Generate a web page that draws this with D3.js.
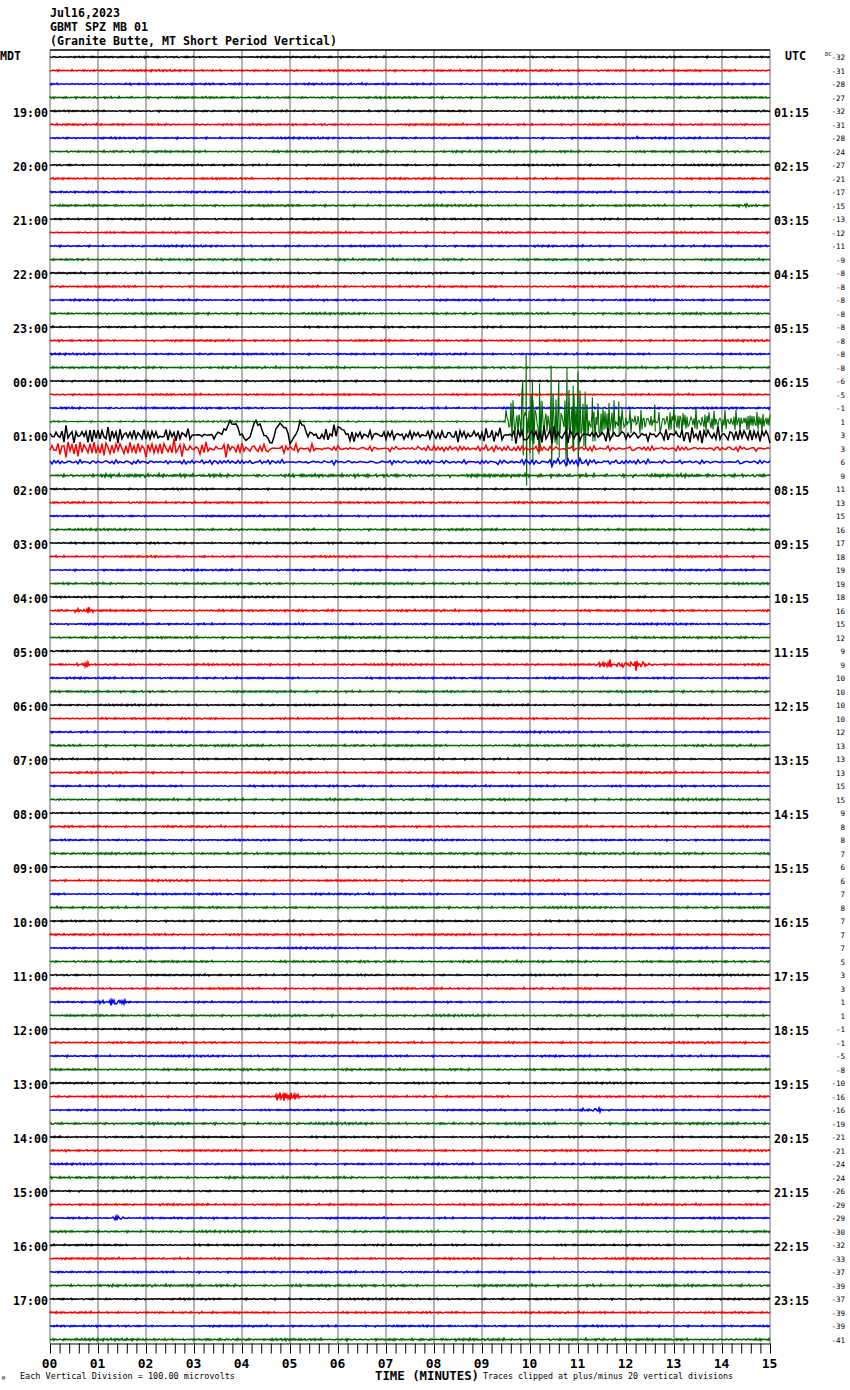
<!DOCTYPE html>
<html><head><meta charset="utf-8">
<script src="https://cdn.jsdelivr.net/npm/d3@7"></script>
<style>body{margin:0;background:#fff}svg{display:block}</style>
</head><body><svg id="c" width="850" height="1390"></svg>
<script>
// ---------------- DATA ----------------
const titleLines = ["Jul16,2023", "GBMT SPZ MB 01", "(Granite Butte, MT Short Period Vertical)"];
const leftLabels = ["", "19:00", "20:00", "21:00", "22:00", "23:00", "00:00", "01:00", "02:00", "03:00", "04:00", "05:00",
  "06:00", "07:00", "08:00", "09:00", "10:00", "11:00", "12:00", "13:00", "14:00", "15:00", "16:00", "17:00"];
const rightLabels = ["", "01:15", "02:15", "03:15", "04:15", "05:15", "06:15", "07:15", "08:15", "09:15", "10:15", "11:15",
  "12:15", "13:15", "14:15", "15:15", "16:15", "17:15", "18:15", "19:15", "20:15", "21:15", "22:15", "23:15"];
const dcValues = [
  -32, -31, -28, -27, -32, -31, -28, -24, -27, -21, -17, -15, -13, -12, -11, -9, -8, -8, -8, -8, -8, -8, -8, -8,
  -6, -5, -1, 1, 3, 3, 6, 9, 11, 13, 15, 16, 17, 18, 19, 19, 18, 16, 15, 12, 9, 9, 10, 10,
  10, 10, 12, 13, 13, 13, 15, 15, 9, 8, 8, 7, 6, 6, 7, 8, 7, 7, 7, 5, 3, 3, 1, 1,
  -1, -1, -5, -8, -10, -16, -16, -19, -21, -21, -24, -24, -26, -29, -29, -30, -32, -33, -37, -39, -37, -39, -39, -41];
const minuteLabels = ["00", "01", "02", "03", "04", "05", "06", "07", "08", "09", "10", "11", "12", "13", "14", "15"];
const traceColors = ["#000000", "#ff0000", "#0000ff", "#006a00"];

// background noise level of each trace (pixels), rows 0..95 (4 traces per hour)
const noiseAmp = [
  1.0, 1.1, 1.1, 1.2,  1.0, 1.1, 1.1, 1.2,  1.0, 1.1, 1.1, 1.2,  1.0, 1.0, 1.1, 1.2,
  1.0, 1.1, 1.1, 1.2,  1.0, 1.1, 1.1, 1.2,  1.0, 1.0, 1.2, 1.2,  8.5, 3.6, 2.8, 2.0,
  1.0, 1.1, 1.0, 1.2,  1.0, 1.1, 1.1, 1.2,  1.0, 1.2, 1.1, 1.2,  1.0, 1.1, 1.1, 1.2,
  1.0, 1.0, 1.1, 1.2,  1.0, 1.1, 1.1, 1.3,  1.0, 1.1, 1.0, 1.2,  1.0, 1.1, 1.1, 1.2,
  1.0, 1.1, 1.1, 1.2,  1.0, 1.1, 1.0, 1.2,  1.0, 1.1, 1.1, 1.2,  1.0, 1.1, 1.0, 1.3,
  1.0, 1.1, 1.1, 1.3,  1.0, 1.1, 1.1, 1.2,  1.0, 1.1, 1.1, 1.4,  1.0, 1.1, 1.1, 1.4];

// extra signal envelopes (pixels) : row, start minute, step (minutes), envelope values
const events = [
  {row: 27, start: 9.62, step: 0.25, env: [38, 50, 48, 50, 44, 38, 30, 25, 22, 20, 18, 17, 16, 15, 15, 14, 14, 13, 13, 12, 12, 12, 12]},
  {row: 28, start: 0, step: 0.5, env: [3, 3, 2, 1, 0, 0, 0, 0, 0, 0, 0, 0, 0, -2, -2, -2, -1, 0, 0, 4, 4, 3, 2, 2, 1, 1, 1, 1, 1, 1, 1]},
  {row: 29, start: 0, step: 0.5, env: [7, 8, 6, 6, 6, 7, 6, 6, 4, 2, 2, 1, 0, 0, 0, 0, 0, 0, 0, 1, 1, 1, 0, 0, 0, 0, 0, 0, 0, 0, 0]},
  {row: 30, start: 9.5, step: 0.5, env: [1, 2, 2, 1, 0]},
  {row: 6, start: 12.1, step: 0.1, env: [2, 1]},
  {row: 11, start: 14.4, step: 0.1, env: [1, 2, 1]},
  {row: 41, start: 0.55, step: 0.1, env: [1, 3, 3, 1]},
  {row: 45, start: 0.6, step: 0.1, env: [1, 3, 1]},
  {row: 45, start: 11.45, step: 0.15, env: [2, 5, 7, 5, 4, 6, 4, 2]},
  {row: 70, start: 1.05, step: 0.1, env: [1, 3, 4, 4, 3, 1]},
  {row: 77, start: 4.6, step: 0.1, env: [1, 4, 5, 4, 3, 3, 1]},
  {row: 78, start: 11.0, step: 0.15, env: [1, 3, 3, 1]},
  {row: 86, start: 1.2, step: 0.1, env: [1, 3, 3, 1]}
];

// slow swings of the 01:00 trace (pixels, negative = up), 3.5 .. 6.5 min every 0.1 min
const swingRow = 28, swingStart = 3.5, swingStep = 0.1;
const swingValues = [0, -3, -9, -13, -10, 2, 6, -4, -13, -9, 3, 8, -2, -15, -8, 7, 2, -12, -8, 2,
  -2, 3, -1, 2, -4, -7, -5, 0, 3, 0, 0];

// largest excursions of the earthquake trace: minute, peak up, peak down (pixels)
const spikeRow = 27;
const spikes = [
  [9.85, -40, 34], [9.92, -68, 64], [10.05, -42, 40], [10.2, -38, 30], [10.44, -56, 46], [10.6, -40, 36],
  [10.77, -52, 44], [10.9, -36, 30], [11.0, -50, 40], [11.15, -30, 26],
  [11.3, -24, 20], [11.85, -20, 15], [12.6, -17, 10], [13.0, -16, 10]];

// fixed wiggle patterns used as the carrier of the noise
const carrierA = [0.1, -0.3, 0.6, -0.2, 0.0, -0.5, 0.3, 0.9, -0.1, 0.2, -0.7, 0.4, -0.2, 0.1, -0.4, 0.8, -0.6, 0.2, 0.0, -0.3,
  0.5, -1.0, 0.3, 0.1, -0.2, 0.6, -0.4, 0.0, 0.7, -0.8, 0.2, -0.1, 0.4, -0.5, 0.9, -0.3, 0.1, -0.6, 0.3, 0.0,
  -0.2, 0.5, -0.9, 0.4, -0.1, 0.2, -0.4, 1.0, -0.7, 0.1, 0.3, -0.5, 0.6, -0.2, 0.0, -0.8, 0.4, 0.2, -0.3, 0.7, -0.6];
const carrierB = [-0.4, 0.8, -0.1, 0.3, -0.9, 0.5, 0.0, -0.6, 1.0, -0.3, 0.2, -0.7, 0.6, -0.2, 0.4, -1.0, 0.7, 0.1, -0.5,
  0.9, -0.8, 0.3, -0.1, 0.5, -0.4, 0.8, -0.6, 0.2, -0.3];
const rowStep = {28: 2, 29: 2, 30: 2};

// ---------------- DRAW ----------------
const svg = d3.select("#c");
const nRows = dcValues.length;
const x = d3.scaleLinear().domain([0, 15]).range([50, 770]);
const y = d3.scaleLinear().domain([0, nRows - 1]).range([57, 1339.5]);
const axisY = 1343.5;
const mono = "'DejaVu Sans Mono', 'Liberation Mono', monospace";

// header
svg.append("g").selectAll("text").data(titleLines).join("text")
  .attr("x", 50).attr("y", (d, i) => 17 + i * 14.2)
  .attr("font-family", mono).attr("font-weight", "bold").attr("font-size", 12.5)
  .attr("textLength", d => d.length * 7).attr("lengthAdjust", "spacingAndGlyphs")
  .text(d => d);

// grid
svg.append("g").selectAll("line").data(d3.range(0, 16)).join("line")
  .attr("x1", d => x(d)).attr("x2", d => x(d)).attr("y1", 50).attr("y2", axisY)
  .attr("stroke", "#8a8a8a").attr("stroke-width", 1.3);
svg.append("line").attr("x1", 50).attr("x2", 770).attr("y1", 50).attr("y2", 50)
  .attr("stroke", "#000").attr("stroke-width", 1.6);

// traces
function envAt(ev, t) {
  const p = (t - ev.start) / ev.step;
  if (p < -0.5 || p > ev.env.length - 0.5) return 0;
  const k0 = Math.max(0, Math.min(ev.env.length - 1, Math.floor(p - 0.5)));
  const k1 = Math.min(ev.env.length - 1, k0 + 1);
  const f = Math.max(0, Math.min(1, p - 0.5 - k0));
  return ev.env[k0] * (1 - f) + ev.env[k1] * f;
}
function swingAt(t) {
  const p = (t - swingStart) / swingStep;
  if (p < 0 || p > swingValues.length - 1) return 0;
  const k = Math.floor(p), f = p - k;
  return swingValues[k] * (1 - f) + (swingValues[Math.min(k + 1, swingValues.length - 1)]) * f;
}
const line = d3.line().x(d => x(d.t)).y(d => d.y);
const traceG = svg.append("g").attr("fill", "none");
for (let r = 0; r < nRows; r++) {
  const s = rowStep[r] || 1;
  const pts = [];
  const rowEvents = events.filter(e => e.row === r);
  const rowSpikes = r === spikeRow ? spikes.map(d => ({t: d[0], up: d[1], dn: d[2], done: false})) : [];
  let i = 0;
  for (let px = 0; px <= 720; px += s, i++) {
    const t = x.invert(50 + px);
    const c = 0.6 * carrierA[(i + 7 * r) % carrierA.length] + 0.4 * carrierB[(i + 11 * r) % carrierB.length];
    let amp = noiseAmp[r];
    rowEvents.forEach(e => { amp += envAt(e, t); });
    let v = amp * c;
    if (r === swingRow) v += swingAt(t);
    rowSpikes.forEach(sp => {
      if (!sp.done && t >= sp.t) {
        pts.push({t: sp.t, y: y(r) + sp.up});
        pts.push({t: sp.t + 0.01, y: y(r) + sp.dn});
        sp.done = true;
      }
    });
    pts.push({t: t, y: y(r) + v});
  }
  traceG.append("path").attr("d", line(pts))
    .attr("stroke", traceColors[r % 4]).attr("stroke-width", r === 27 ? 1.1 : 1.5)
    .attr("stroke-linejoin", "miter");
}

// time labels
const hourRows = d3.range(0, nRows, 4);
svg.append("g").selectAll("text").data(hourRows.filter((d, i) => leftLabels[i])).join("text")
  .attr("x", 48).attr("y", d => y(d) + 5.5).attr("text-anchor", "end")
  .attr("font-family", mono).attr("font-weight", "bold").attr("font-size", 12.5)
  .attr("textLength", 35).attr("lengthAdjust", "spacingAndGlyphs")
  .text(d => leftLabels[d / 4]);
svg.append("g").selectAll("text").data(hourRows.filter((d, i) => rightLabels[i])).join("text")
  .attr("x", 774).attr("y", d => y(d) + 5.5)
  .attr("font-family", mono).attr("font-weight", "bold").attr("font-size", 12.5)
  .attr("textLength", 35).attr("lengthAdjust", "spacingAndGlyphs")
  .text(d => rightLabels[d / 4]);
svg.append("text").attr("x", 0).attr("y", 60).attr("font-family", mono).attr("font-weight", "bold")
  .attr("font-size", 12).attr("textLength", 21).attr("lengthAdjust", "spacingAndGlyphs").text("MDT");
svg.append("text").attr("x", 785).attr("y", 60).attr("font-family", mono).attr("font-weight", "bold")
  .attr("font-size", 12).attr("textLength", 21).attr("lengthAdjust", "spacingAndGlyphs").text("UTC");

// DC offsets
svg.append("g").selectAll("text").data(dcValues).join("text")
  .attr("x", 845).attr("y", (d, i) => y(i) + 3).attr("text-anchor", "end")
  .attr("font-family", mono).attr("font-size", 7.5)
  .text(d => String(d));
svg.append("text").attr("x", 825).attr("y", 56).attr("font-family", mono).attr("font-size", 5.5).text("DC");

// bottom axis
const ticks = d3.range(0, 75 + 1).map(k => k / 5);
const axis = d3.axisBottom(x).tickValues(ticks).tickSize(10).tickSizeOuter(0)
  .tickFormat(d => Math.abs(d - Math.round(d)) < 1e-6 ? minuteLabels[Math.round(d)] : "");
const ax = svg.append("g").attr("transform", `translate(0,${axisY})`).call(axis);
ax.select(".domain").attr("stroke", "#000").attr("stroke-width", 1.2);
ax.selectAll(".tick line").attr("stroke", "#000").attr("stroke-width", 1);
ax.selectAll(".tick text").attr("y", 24).attr("dy", 0).attr("dx", -1)
  .attr("font-family", mono).attr("font-weight", "bold").attr("font-size", 13).attr("fill", "#000");

// footer
svg.append("text").attr("x", 20).attr("y", 1379).attr("font-family", mono).attr("font-size", 8)
  .attr("textLength", 215).attr("lengthAdjust", "spacingAndGlyphs").text("Each Vertical Division =  100.00 microvolts");
svg.append("text").attr("x", 375).attr("y", 1380).attr("font-family", mono).attr("font-weight", "bold").attr("font-size", 12)
  .attr("textLength", 104).attr("lengthAdjust", "spacingAndGlyphs").text("TIME (MINUTES)");
svg.append("text").attr("x", 483).attr("y", 1379).attr("font-family", mono).attr("font-size", 8)
  .attr("textLength", 250).attr("lengthAdjust", "spacingAndGlyphs").text("Traces clipped at plus/minus 20 vertical divisions");
svg.append("text").attr("x", 2).attr("y", 1380).attr("font-family", mono).attr("font-size", 5).text("M");
</script>
</body></html>
